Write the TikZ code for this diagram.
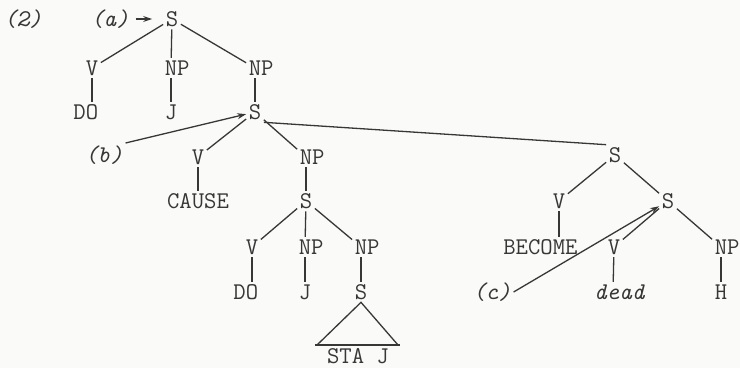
\documentclass[tikz,border=0pt]{standalone}
\usepackage{fontspec}
\usetikzlibrary{arrows.meta}
\definecolor{ink}{RGB}{55,55,55}
\definecolor{paper}{RGB}{250,250,248}
\newcommand\twfont{\fontsize{24}{28}\selectfont\ttfamily\addfontfeatures{FakeBold=1.2}}
\tikzset{
  lab/.style={inner sep=2.5pt, text=ink, font=\twfont},
  itl/.style={lab, font=\twfont\itshape},
  edge/.style={draw=ink, line width=1.3pt},
  arr/.style={edge, -{Stealth[length=9pt,width=6pt]}}
}
\begin{document}
\begin{tikzpicture}[x=1pt,y=-1pt]
\fill[paper] (0,0) rectangle (740,368);
\useasboundingbox (0,0) rectangle (740,368);
% labels
\node[itl] (n2) at (23,19) {(2)};
\node[itl] (na) at (110,19) {(a)};
\node[itl] (nb) at (104,155) {(b)};
\node[itl] (nc) at (492,292) {(c)};
% top tree
\node[lab] (S0) at (172,19) {S};
\node[lab] (V1) at (92,68) {V};
\node[lab] (NP1) at (171,68) {N\rlap{P}};
\node[lab] (NP2) at (255,68) {N\rlap{P}};
\node[lab] (DO1) at (92,112) {\llap{D}O};
\node[lab] (J1) at (171,112) {J};
\node[lab] (S1) at (255,112) {S};
% CAUSE subtree
\node[lab] (V2) at (198,157) {V};
\node[lab] (NP5) at (306,157) {N\rlap{P}};
\node[lab] (CAUSE) at (198,201) {\llap{CA}U\rlap{SE}};
\node[lab] (S3) at (306,201) {S};
\node[lab] (V3) at (252,247) {V};
\node[lab] (NP3) at (305,247) {N\rlap{P}};
\node[lab] (NP4) at (361,247) {N\rlap{P}};
\node[lab] (DO2) at (252,292) {\llap{D}O};
\node[lab] (J2) at (305,292) {J};
\node[lab] (S4) at (361,292) {S};
\node[lab, inner sep=0pt] (STAJ) at (358,356) {STA J};
\coordinate (tl) at (317,345);
\coordinate (tr) at (398,345);
\coordinate (bl) at (315,345);
\coordinate (br) at (400,345);
% BECOME subtree
\node[lab] (SR) at (615,155) {S};
\node[lab] (V4) at (559,201) {V};
\node[lab] (S5) at (668,201) {S};
\node[lab] (BECOME) at (559,247) {\llap{BECO}M\rlap{E}};
\node[lab] (V5) at (614,247) {V};
\node[lab] (NP6) at (721,247) {N\rlap{P}};
\node[lab] (dead) at (613,292) {\itshape\llap{d}e\rlap{ad}};
\node[lab] (H) at (721,292) {H};
% edges
\draw[edge] (S0) -- (V1);
\draw[edge] (S0) -- (NP1);
\draw[edge] (S0) -- (NP2);
\draw[edge] (V1) -- (DO1);
\draw[edge] (NP1) -- (J1);
\draw[edge] (NP2) -- (S1);
\draw[edge] (S1) -- (V2);
\draw[edge] (S1) -- (NP5);
\draw[edge] (S1.south east) -- (SR.north west);
\draw[edge] (V2) -- (CAUSE);
\draw[edge] (NP5) -- (S3);
\draw[edge] (S3) -- (V3);
\draw[edge] (S3) -- (NP3);
\draw[edge] (S3) -- (NP4);
\draw[edge] (V3) -- (DO2);
\draw[edge] (NP3) -- (J2);
\draw[edge] (NP4) -- (S4);
\draw[edge] (tl) -- (S4.south) -- (tr);
\draw[edge] (bl) -- (br);
\draw[edge] (SR) -- (V4);
\draw[edge] (SR) -- (S5);
\draw[edge] (V4) -- (BECOME);
\draw[edge] (S5) -- (V5);
\draw[edge] (S5) -- (NP6);
\draw[edge] (V5) -- (dead);
\draw[edge] (NP6) -- (H);
% arrows
\draw[arr, shorten <=4pt, shorten >=11pt] (na.east) -- (S0.west);
\draw[arr] (nb.north east) -- (S1);
\draw[arr] (nc.east) -- (S5);
\end{tikzpicture}
\end{document}
